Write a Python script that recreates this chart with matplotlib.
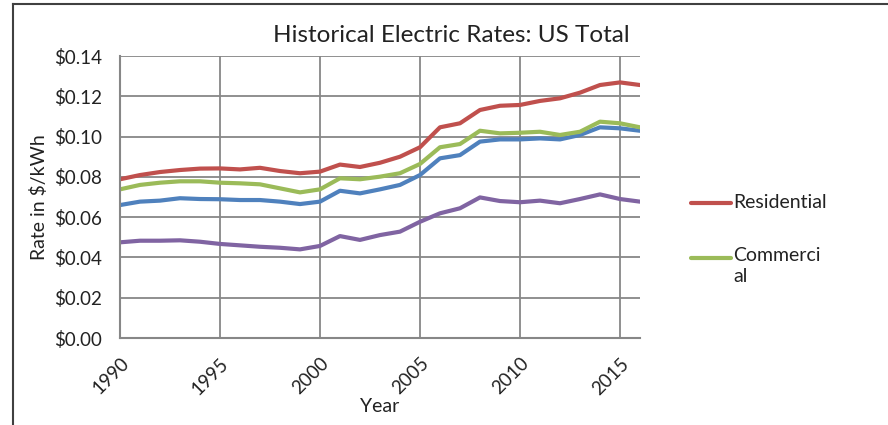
import matplotlib
matplotlib.use('Agg')
import matplotlib.pyplot as plt
from matplotlib.lines import Line2D
from matplotlib.ticker import MultipleLocator, FuncFormatter

plt.rcParams['font.family'] = ['Lato', 'DejaVu Sans']

years = list(range(1990, 2017))

residential = [0.0788, 0.0809, 0.0824, 0.0834, 0.0841, 0.0842, 0.0837, 0.0845, 0.0829, 0.0818,
               0.0826, 0.0861, 0.0849, 0.0870, 0.0900, 0.0947, 0.1046, 0.1066, 0.1132, 0.1153,
               0.1157, 0.1177, 0.1190, 0.1218, 0.1256, 0.1269, 0.1256]
commercial = [0.0738, 0.0760, 0.0771, 0.0778, 0.0778, 0.0771, 0.0768, 0.0763, 0.0743, 0.0723,
              0.0738, 0.0793, 0.0788, 0.0801, 0.0818, 0.0864, 0.0947, 0.0963, 0.1029, 0.1016,
              0.1019, 0.1024, 0.1008, 0.1024, 0.1074, 0.1066, 0.1046]
industrial = [0.0660, 0.0677, 0.0682, 0.0694, 0.0690, 0.0689, 0.0685, 0.0685, 0.0677, 0.0665,
              0.0677, 0.0731, 0.0718, 0.0738, 0.0760, 0.0809, 0.0892, 0.0908, 0.0975, 0.0986,
              0.0986, 0.0991, 0.0986, 0.1008, 0.1046, 0.1041, 0.1029]
transportation = [0.0475, 0.0483, 0.0483, 0.0485, 0.0478, 0.0467, 0.0460, 0.0453, 0.0448, 0.0440,
                  0.0457, 0.0506, 0.0487, 0.0511, 0.0528, 0.0577, 0.0619, 0.0644, 0.0698, 0.0680,
                  0.0674, 0.0682, 0.0669, 0.0690, 0.0713, 0.0690, 0.0677]

series = [
    ('Residential', residential, '#C0504D'),
    ('Commercial', commercial, '#9BBB59'),
    ('Industrial', industrial, '#4F81BD'),
    ('Transportation', transportation, '#8064A2'),
]

fig = plt.figure(figsize=(8.88, 4.25), dpi=100)
ax = fig.add_axes([0.1351, 0.2047, 0.5856, 0.6635])

# drawn bottom to top so red sits on top like the original
for name, vals, col in reversed(series):
    ax.plot(years, vals, color=col, lw=3.0, solid_joinstyle='round',
            solid_capstyle='round', label=name)

ax.set_xlim(1990, 2016)
ax.set_ylim(0, 0.14)
ax.xaxis.set_major_locator(MultipleLocator(5))
ax.yaxis.set_major_locator(MultipleLocator(0.02))
ax.yaxis.set_major_formatter(FuncFormatter(lambda v, p: '${:.2f}'.format(v)))
ax.grid(True, color='#878787', lw=1.3)
ax.set_axisbelow(True)
for s in ['top', 'right']:
    ax.spines[s].set_visible(False)
for s in ['left', 'bottom']:
    ax.spines[s].set_color('#878787')
    ax.spines[s].set_linewidth(1.5)
ax.tick_params(length=0, labelsize=13.5, colors='#222222')
ax.tick_params(axis='y', pad=13)
ax.tick_params(axis='x', pad=12)
for lbl in ax.get_xticklabels():
    lbl.set_rotation(45)
    lbl.set_ha('right')
    lbl.set_rotation_mode('anchor')

ax.set_xlabel('Year', fontsize=14, color='#222222', labelpad=0)
ax.set_ylabel('Rate in $/kWh', fontsize=14, color='#222222', labelpad=4)

fig.text(0.508, 0.901, 'Historical Electric Rates: US Total', ha='center', va='baseline',
         fontsize=17.5, color='#222222')

# legend (only two entries fit in the original chart area)
fig.add_artist(Line2D([0.778, 0.823], [1 - 203 / 425, 1 - 203 / 425], color=series[0][2], lw=3.0,
                      solid_capstyle='round'))
fig.text(0.826, 1 - 203 / 425, 'Residential', va='center', fontsize=14, color='#222222')
fig.add_artist(Line2D([0.778, 0.823], [1 - 258 / 425, 1 - 258 / 425], color=series[1][2], lw=3.0,
                      solid_capstyle='round'))
fig.text(0.826, 1 - 247 / 425, 'Commerci\nal', va='top', fontsize=14, color='#222222',
         linespacing=1.25)

# chart border
fig.add_artist(Line2D([0.0146, 1.0], [0.991, 0.991], color='#404040', lw=1.5))
fig.add_artist(Line2D([0.0146, 0.0146], [0.0, 0.991], color='#404040', lw=1.5))

fig.savefig('out.png', dpi=100)
